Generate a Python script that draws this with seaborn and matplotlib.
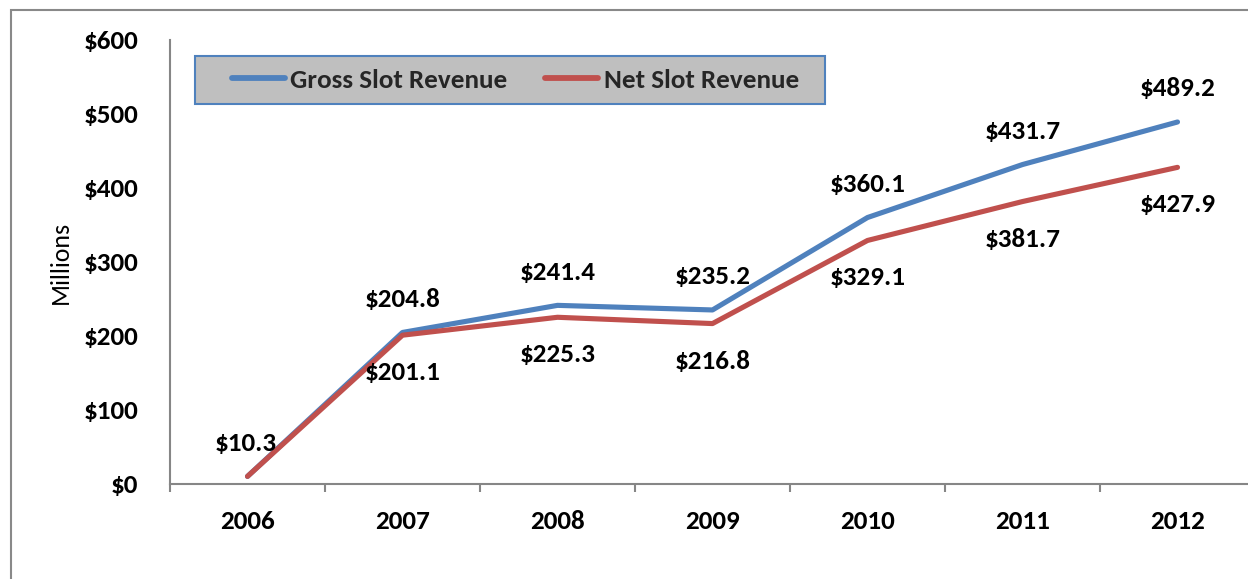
import numpy as np
import pandas as pd
import seaborn as sns
import matplotlib.pyplot as plt
from matplotlib.patches import Rectangle
from matplotlib.ticker import FixedLocator, FuncFormatter

years = [2006, 2007, 2008, 2009, 2010, 2011, 2012]
gross = [10.3, 204.8, 241.4, 235.2, 360.1, 431.7, 489.2]
net = [10.3, 201.1, 225.3, 216.8, 329.1, 381.7, 427.9]
series_names = ["Gross Slot Revenue", "Net Slot Revenue"]
colors = ["#4F81BD", "#C0504D"]

df = pd.DataFrame({
    "year": years * 2,
    "value": gross + net,
    "series": [series_names[0]] * len(years) + [series_names[1]] * len(years),
})

sns.set_theme(style="white")
plt.rcParams["font.family"] = ["Carlito", "DejaVu Sans"]

FS = 19.5
W, H = 1248, 579
fig = plt.figure(figsize=(W / 100, H / 100), dpi=100)
ax = fig.add_axes([170 / W, 1 - 484 / H, 1085 / W, 444 / H])

sns.lineplot(data=df, x="year", y="value", hue="series", palette=colors,
             linewidth=3.7, solid_capstyle="round", solid_joinstyle="round",
             ax=ax, legend=True)

ax.set_xlim(2005.5, 2012.5)
ax.set_ylim(0, 600)
ax.set_yticks(range(0, 601, 100))
ax.yaxis.set_major_formatter(FuncFormatter(lambda v, p: f"${v:.0f}"))
ax.set_xticks(years)
ax.set_xticklabels([str(y) for y in years])
ax.xaxis.set_minor_locator(FixedLocator([y - 0.5 for y in years] + [years[-1] + 0.5]))

grey = "#868686"
for s in ["top", "right"]:
    ax.spines[s].set_visible(False)
for s in ["left", "bottom"]:
    ax.spines[s].set_color(grey)
    ax.spines[s].set_linewidth(1.5)

ax.tick_params(axis="y", which="major", direction="out", length=6, width=1.5,
               color=grey, pad=17, labelsize=FS)
ax.tick_params(axis="x", which="major", length=0, pad=19, labelsize=FS)
ax.tick_params(axis="x", which="minor", direction="out", length=6, width=1.5,
               color=grey, bottom=True)
for lab in ax.get_xticklabels() + ax.get_yticklabels():
    lab.set_fontweight("bold")
    lab.set_color("black")

ax.set_xlabel("")
ax.set_ylabel("Millions", fontsize=18.5, color="black")
ax.yaxis.set_label_coords(-0.09, 0.5)

# data labels
for i, (yr, v) in enumerate(zip(years, gross)):
    ax.annotate(f"${v:.1f}", (yr, v), xytext=(-1 if i == 0 else 0, 24),
                textcoords="offset points", ha="center", va="center",
                fontsize=FS, fontweight="bold", color="black")
for i, (yr, v) in enumerate(zip(years, net)):
    if i == 0:
        continue
    ax.annotate(f"${v:.1f}", (yr, v), xytext=(0, -27),
                textcoords="offset points", ha="center", va="center",
                fontsize=FS, fontweight="bold", color="black")

# legend box
bx0, by0 = (195 - 170) / 1085, (484 - 104) / 444
bw, bh = 630 / 1085, 48 / 444
ax.add_patch(Rectangle((bx0, by0), bw, bh, transform=ax.transAxes,
                       facecolor="#BFBFBF", edgecolor="#4F81BD", linewidth=1.5,
                       zorder=5, clip_on=False))
handles, labels = ax.get_legend_handles_labels()
leg = ax.legend(handles, labels, loc="center", ncol=2, frameon=False,
                bbox_to_anchor=(bx0 + bw / 2 + 0.005, by0 + bh / 2),
                prop={"size": FS, "weight": "bold"}, handlelength=1.95,
                handletextpad=0.2, columnspacing=1.4, borderaxespad=0)
leg.set_zorder(6)
for line in leg.get_lines():
    line.set_linewidth(4.2)
    line.set_solid_capstyle("round")

# outer chart border
fig.patches.append(Rectangle((11 / W, -0.1), 1.2, 1 - 10 / H + 0.1,
                             transform=fig.transFigure, fill=False,
                             edgecolor="#898989", linewidth=1.5))

fig.savefig("out.png", dpi=100)
